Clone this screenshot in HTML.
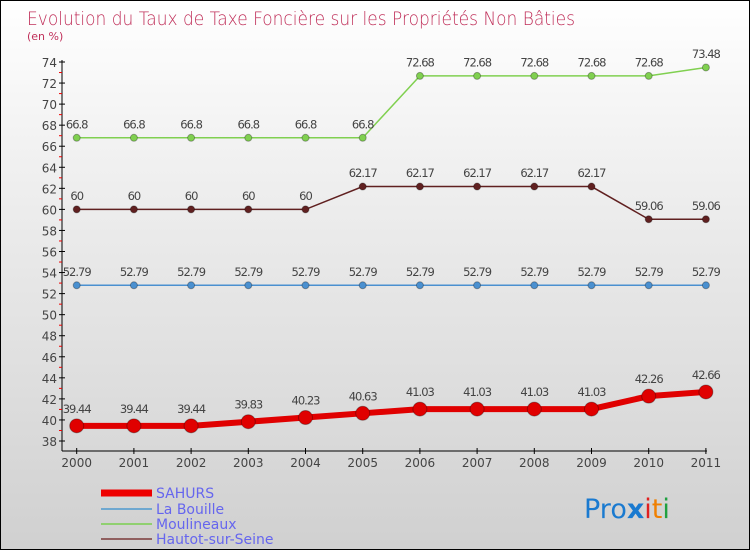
<!DOCTYPE html>
<html><head><meta charset="utf-8"><style>
body{margin:0}
#c{position:relative;width:748px;height:548px;border:1px solid #000;background:linear-gradient(#fff,#f0f0f0 30%,#d0d0d0);font-family:"DejaVu Sans","Liberation Sans",sans-serif;overflow:hidden}
</style></head><body>
<div id="c">
<svg id="s" width="748" height="548" style="position:absolute;left:0;top:0">
<text x="26" y="24" font-size="19" fill="#c0305a" font-family="DejaVu Sans ExtraLight, DejaVu Sans, sans-serif" font-weight="200" textLength="548" lengthAdjust="spacingAndGlyphs">Evolution du Taux de Taxe Foncière sur les Propriétés Non Bâties</text>
<text x="26" y="39" font-size="11" fill="#c0305a">(en %)</text>
<g id="g"></g>
<g>
<line x1="100" y1="492" x2="151" y2="492" stroke="#e00" stroke-width="7"/>
<text x="155" y="497" font-size="14" fill="#6666ee">SAHURS</text>
<line x1="100" y1="508" x2="151" y2="508" stroke="#6fa8d0" stroke-width="2"/>
<text x="155" y="513" font-size="14" fill="#6666ee">La Bouille</text>
<line x1="100" y1="523" x2="151" y2="523" stroke="#90d070" stroke-width="2"/>
<text x="155" y="528" font-size="14" fill="#6666ee">Moulineaux</text>
<line x1="100" y1="538" x2="151" y2="538" stroke="#906060" stroke-width="2"/>
<text x="155" y="543" font-size="14" fill="#6666ee">Hautot-sur-Seine</text>
</g>
<text x="583" y="517" font-size="27"><tspan fill="#1a7ad0">Pro</tspan><tspan fill="#1a7ad0" font-weight="bold">x</tspan><tspan fill="#e02020">i</tspan><tspan fill="#f08000">t</tspan><tspan fill="#20a040">i</tspan></text>
</svg>
</div>
<script>
const years=[2000,2001,2002,2003,2004,2005,2006,2007,2008,2009,2010,2011];
const yTicks=[38,40,42,44,46,48,50,52,54,56,58,60,62,64,66,68,70,72,74];
const sahurs=[39.44,39.44,39.44,39.83,40.23,40.63,41.03,41.03,41.03,41.03,42.26,42.66];
const laBouille=[52.79,52.79,52.79,52.79,52.79,52.79,52.79,52.79,52.79,52.79,52.79,52.79];
const moulineaux=[66.8,66.8,66.8,66.8,66.8,66.8,72.68,72.68,72.68,72.68,72.68,73.48];
const hautot=[60,60,60,60,60,62.17,62.17,62.17,62.17,62.17,59.06,59.06];
const NS="http://www.w3.org/2000/svg",g=document.getElementById('g');
const X=i=>75.7+i*57.2, Y=v=>440-(v-38)*(379/36);
function mk(t,a,p){const e=document.createElementNS(NS,t);for(const k in a)e.setAttribute(k,a[k]);(p||g).appendChild(e);return e;}
let ax=mk('line',{x1:61,y1:59,x2:61,y2:450,stroke:'#000'});


let xa=mk('line',{x1:61,y1:450,x2:706,y2:450,stroke:'#000'});


yTicks.forEach((v,k)=>{
 mk('line',{x1:58,y1:Y(v),x2:64,y2:Y(v),stroke:'#000'});
 if(k<yTicks.length-1) mk('line',{x1:58,y1:Y(v+1),x2:61,y2:Y(v+1),stroke:'#e00'});
 const t=mk('text',{x:56,y:Y(v)+5,'font-size':12,fill:'#444','text-anchor':'end'});t.textContent=v;
 
 
});
years.forEach((yr,i)=>{
 mk('line',{x1:X(i),y1:447,x2:X(i),y2:453,stroke:'#000'});
 const t=mk('text',{x:X(i),y:466,'font-size':12,fill:'#444','text-anchor':'middle'});t.textContent=yr;
 
 
});
function series(d,col,w,r,name){
 const pl=mk('polyline',{points:d.map((v,i)=>X(i)+','+Y(v)).join(' '),fill:'none',stroke:col,'stroke-width':w});
 
 
 d.forEach((v,i)=>{
  const c=mk('circle',{cx:X(i),cy:Y(v),r:r,fill:col,stroke:'rgba(0,0,0,0.3)'});
  
  
  const t=mk('text',{x:X(i),y:Y(v)-r-6,'font-size':11.5,fill:'#444','text-anchor':'middle','letter-spacing':'-1'});t.textContent=v;
  
  
 });
}
series(laBouille,'#4a90d0',1.5,3.5,'la-bouille');
series(moulineaux,'#80d050',1.5,3.5,'moulineaux');
series(hautot,'#602020',1.5,3.5,'hautot');
series(sahurs,'#e00000',6,7,'sahurs');
</script>
</body></html>
